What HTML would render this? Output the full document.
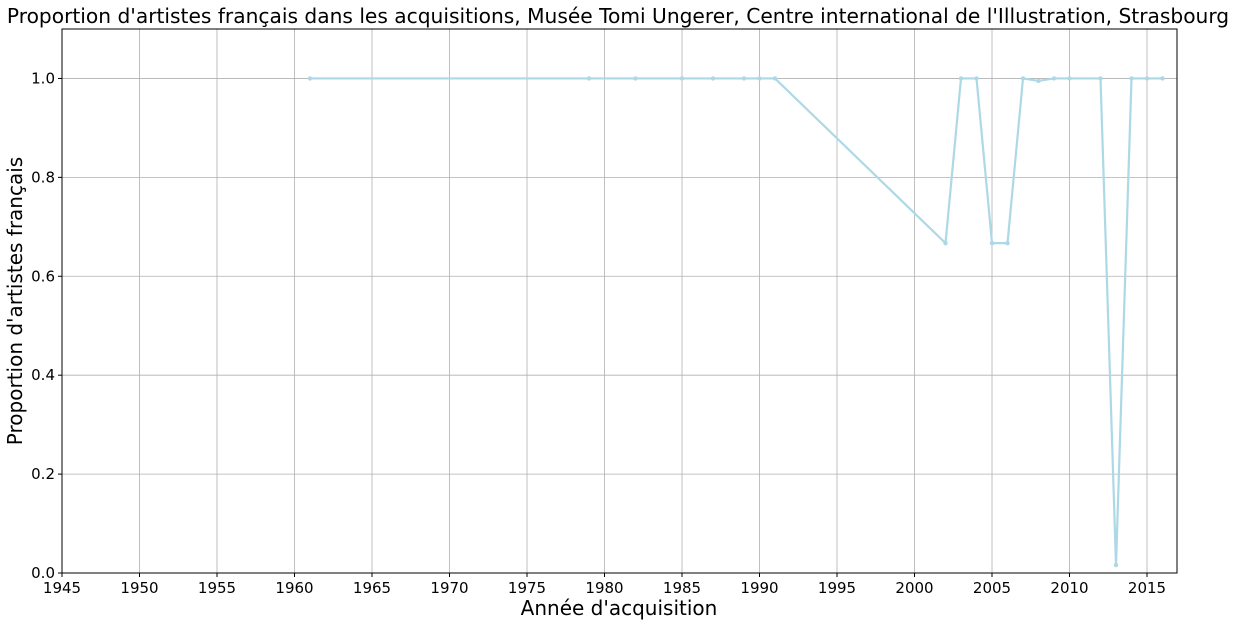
<!DOCTYPE html>
<html><head><meta charset="utf-8"><style>
body{margin:0;background:#fff;width:1236px;height:626px;overflow:hidden}
text{font-family:"DejaVu Sans","Liberation Sans",sans-serif}
</style></head><body>
<svg id="c" width="1236" height="626"></svg>
<script>
const years=[1961,1979,1982,1985,1987,1989,1990,1991,2002,2003,2004,2005,2006,2007,2008,2009,2010,2012,2013,2014,2015,2016];
const values=[1,1,1,1,1,1,1,1,0.667,1,1,0.667,0.667,1,0.995,1,1,1,0.016,1,1,1];
const xTicks=[1945,1950,1955,1960,1965,1970,1975,1980,1985,1990,1995,2000,2005,2010,2015];
const yTicks=[0,0.2,0.4,0.6,0.8,1.0];
const L=62,R=1177,T=29,B=573,x0=1945,x1=2016.935,y0=0,y1=1.1;
const X=v=>L+(v-x0)/(x1-x0)*(R-L), Y=v=>B-(v-y0)/(y1-y0)*(B-T);
const svg=document.getElementById('c'),NS='http://www.w3.org/2000/svg';
function mk(t,a,p){const e=document.createElementNS(NS,t);for(const k in a)e.setAttribute(k,a[k]);(p||svg).appendChild(e);return e;}
const g=mk('g',{});


xTicks.forEach(v=>{mk('line',{x1:X(v),x2:X(v),y1:T,y2:B,stroke:'#b0b0b0','stroke-width':0.8},g);
const t=mk('text',{x:X(v),y:B+20,'font-size':15,'text-anchor':'middle',fill:'#000'});t.textContent=v;


mk('line',{x1:X(v),x2:X(v),y1:B,y2:B+4,stroke:'#000'});});
yTicks.forEach(v=>{mk('line',{x1:L,x2:R,y1:Y(v),y2:Y(v),stroke:'#b0b0b0','stroke-width':0.8},g);
const t=mk('text',{x:L-7,y:Y(v)+5,'font-size':15,'text-anchor':'end',fill:'#000'});t.textContent=v.toFixed(1);


mk('line',{x1:L-4,x2:L,y1:Y(v),y2:Y(v),stroke:'#000'});});
const pl=mk('polyline',{points:years.map((y,i)=>X(y)+','+Y(values[i])).join(' '),fill:'none',stroke:'#add8e6','stroke-width':2.2});


years.forEach((y,i)=>{const c=mk('circle',{cx:X(y),cy:Y(values[i]),r:2.2,fill:'#add8e6'});

});
const fr=mk('rect',{x:L,y:T,width:R-L,height:B-T,fill:'none',stroke:'#000','stroke-width':1});


let t=mk('text',{x:618,y:23,'font-size':20.2,'text-anchor':'middle'});t.textContent="Proportion d'artistes français dans les acquisitions, Musée Tomi Ungerer, Centre international de l'Illustration, Strasbourg";


t=mk('text',{x:619,y:615,'font-size':20,'text-anchor':'middle'});t.textContent="Année d'acquisition";


t=mk('text',{x:0,y:0,'font-size':20,'text-anchor':'middle',transform:'translate(22,301) rotate(-90)'});t.textContent="Proportion d'artistes français";


</script>
</body></html>
